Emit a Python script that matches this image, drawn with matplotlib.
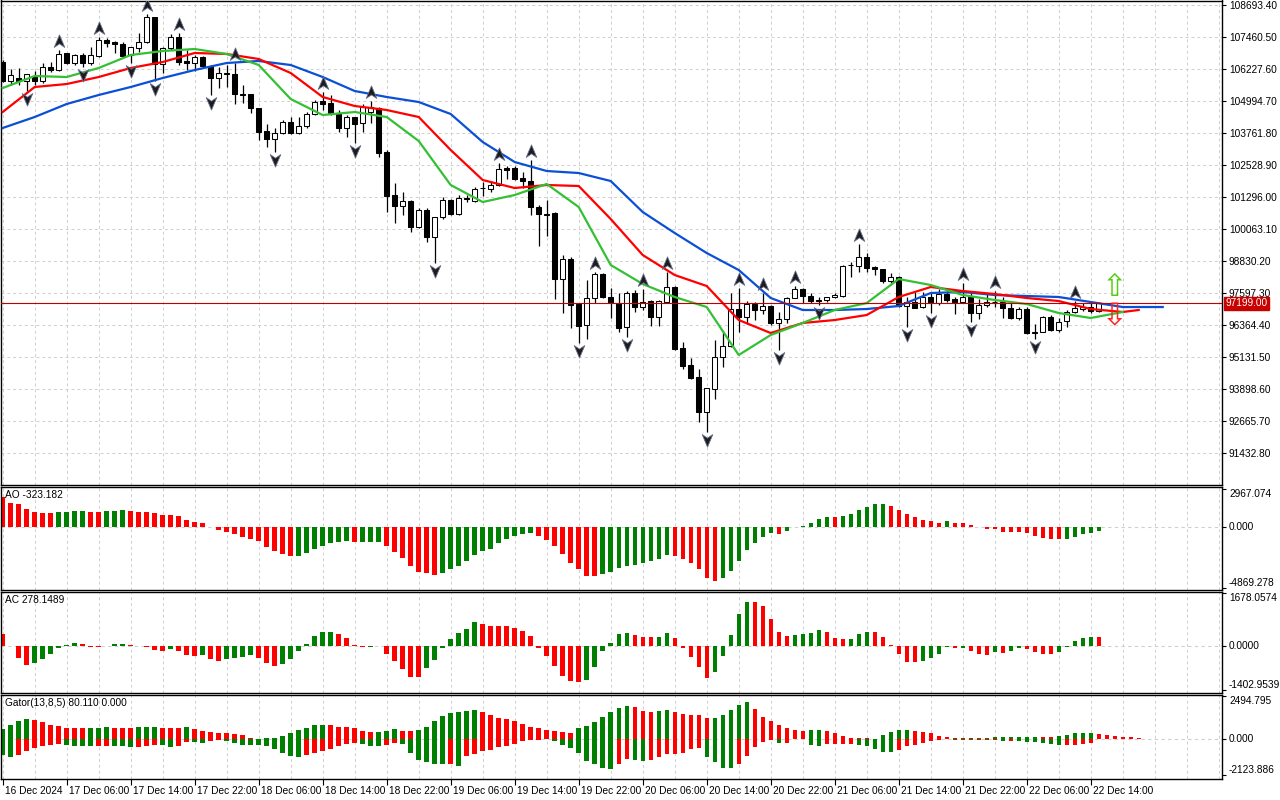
import numpy as np
import matplotlib
matplotlib.use("Agg")
import matplotlib.pyplot as plt
from matplotlib.path import Path
from matplotlib import transforms

plt.rcParams['font.family'] = ['Liberation Sans', 'DejaVu Sans']

# hourly BTC bars, first bar = 16 Dec 2024 22:00
opens = [106497, 105765, 105881, 105765, 105958, 105765, 106305, 106189, 106844, 106459,
         106767, 106459, 106729, 107345, 107268, 107191, 106767, 107037, 107268, 108231,
         106420, 107037, 107460, 106536, 106459, 106690, 106343, 105881, 106074, 106035,
         105264, 105264, 104725, 103839, 103531, 103762, 104185, 103762, 104031, 104494,
         104995, 104918, 104532, 103954, 104378, 104147, 104571, 104725, 103029, 101373,
         100949, 101141, 100140, 100795, 99755, 100525, 101180, 100641, 101257, 101141,
         101642, 101604, 101758, 102413, 102413, 102028, 101912, 100910, 100641, 100679,
         98136, 98907, 97172, 96364, 97404, 98329, 97442, 97211, 96287, 97597,
         97057, 97288, 96672, 97250, 97828, 95478, 94823, 94361, 93012, 93898,
         95131, 95555, 96981, 96672, 97173, 96942, 97096, 96441, 96595, 97404,
         97751, 97481, 97327, 97327, 97443, 97481, 98676, 98637, 98984, 98599,
         98522, 98059, 98214, 97096, 97250, 97057, 97443, 97211, 97558, 97365,
         97250, 97443, 96826, 97134, 97250, 97265, 97019, 96634, 96981, 96055,
         96094, 96672, 96171, 96518, 96865, 96981, 97057, 96904]
highs = [106574, 106227, 106266, 106035, 106150, 106459, 106497, 106960, 106860, 106806,
         106844, 107075, 107460, 107422, 107306, 107268, 107075, 107615, 108347, 108240,
         107075, 107576, 107615, 106960, 106767, 106729, 106382, 106305, 106400, 106459,
         105611, 105280, 104740, 104108, 103955, 104262, 104378, 104378, 104571, 105033,
         105341, 105226, 104648, 104455, 104390, 104879, 104995, 104764, 103107, 101835,
         101489, 101180, 100872, 100872, 100540, 101295, 101218, 101372, 101372, 101681,
         101874, 101912, 102606, 102490, 102490, 102259, 102721, 100987, 101180, 100718,
         99061, 98984, 97211, 98098, 98406, 98367, 97789, 97597, 97674, 97712,
         97770, 97327, 97327, 98406, 97866, 95709, 95093, 94669, 93950, 95786,
         96133, 97597, 97789, 97288, 97250, 97597, 97134, 96865, 97443, 97866,
         97780, 97597, 97443, 97460, 97597, 98660, 98791, 99485, 99139, 98620,
         98540, 98367, 98252, 97443, 97635, 97635, 97635, 97751, 97674, 97443,
         97982, 97597, 97365, 97558, 97674, 97443, 97211, 97057, 97057, 96402,
         96711, 96749, 96634, 96942, 97290, 97211, 97250, 97250]
lows = [105727, 105611, 105611, 105380, 105611, 105688, 106112, 106150, 106420, 106382,
        106305, 106382, 106690, 107075, 106844, 106690, 106459, 106882, 107229, 105765,
        106074, 106960, 106382, 106189, 106150, 106305, 105226, 105495, 105534, 104879,
        104918, 104532, 103492, 103222, 103029, 103723, 103723, 103723, 103954, 104455,
        104648, 104455, 103800, 103608, 103377, 103800, 104147, 102837, 100718, 100294,
        100602, 99947, 100101, 99562, 98753, 100448, 100602, 100602, 101103, 101103,
        101334, 101488, 101719, 101989, 101951, 101642, 100602, 99408, 99793, 97365,
        96826, 96248, 95670, 95824, 97211, 97420, 96634, 96094, 95901, 96865,
        96942, 96325, 96325, 97211, 95420, 94669, 94300, 92626, 92241, 93512,
        94746, 95530, 96094, 96402, 96556, 96788, 96364, 95401, 96441, 97390,
        97211, 97211, 97134, 97250, 97404, 97460, 98214, 98406, 98406, 98291,
        98000, 97982, 97070, 96287, 97000, 97019, 96826, 97134, 97250, 96788,
        97211, 96479, 96595, 97057, 97057, 96634, 96595, 96556, 96030, 95824,
        96080, 96133, 96094, 96287, 96826, 96904, 96826, 96865]
closes = [105765, 105997, 105765, 106035, 105765, 106305, 106189, 106806, 106459, 106767,
          106459, 106767, 107345, 107229, 107191, 106729, 107075, 107268, 108231, 106420,
          107037, 107460, 106497, 106459, 106690, 106343, 105881, 106074, 106035, 105264,
          105226, 104725, 103800, 103531, 103762, 104185, 103762, 104031, 104494, 104956,
          104879, 104532, 103954, 104378, 104108, 104764, 104764, 102991, 101334, 100949,
          101141, 100140, 100795, 99755, 100525, 101180, 100641, 101257, 101218, 101604,
          101660, 101758, 102374, 102336, 101989, 101912, 100910, 100641, 100620, 98136,
          98907, 97134, 96325, 97404, 98329, 97442, 97211, 96248, 97597, 97057,
          97250, 96672, 97288, 97828, 95439, 94784, 94322, 93012, 93936, 95131,
          95555, 96981, 96672, 97173, 96942, 97096, 96441, 96595, 97404, 97751,
          97481, 97288, 97300, 97443, 97520, 98637, 98660, 98984, 98560, 98522,
          98059, 98214, 97096, 97250, 97019, 97443, 97211, 97558, 97327, 97250,
          97443, 96826, 97134, 97250, 97265, 97019, 96634, 96981, 96055, 96094,
          96672, 96171, 96479, 96865, 97019, 97057, 96904, 97199]

# Alligator lines, read every 4 bars (jaw shifted 8, teeth 5, lips 3)
jaw_k = [0, 4, 8, 12, 16, 20, 24, 28, 32, 36, 40, 44, 48, 52, 56, 60, 64, 68, 72, 76,
         80, 84, 88, 92, 96, 100, 104, 108, 112, 116, 120, 124, 128, 132, 136, 140, 145]
jaw = [103955, 104378, 104879, 105226, 105534, 105881, 106189, 106459, 106536, 106382,
       105919, 105380, 105149, 104956, 104494, 103415, 102644, 102297, 102220, 101912,
       100718, 99909, 99138, 98483, 97404, 96942, 96942, 96980, 97096, 97597,
       97636, 97520, 97481, 97443, 97250, 97057, 97057]
teeth_k = [0, 4, 8, 12, 16, 20, 24, 28, 32, 36, 40, 44, 48, 52, 56, 60, 64, 68, 72, 76,
           80, 84, 88, 92, 96, 100, 104, 108, 112, 116, 120, 124, 128, 132, 136, 140, 142]
teeth = [104571, 105534, 105649, 105919, 106266, 106497, 106844, 106806, 106613, 106074,
         105149, 104802, 104648, 104378, 103107, 101951, 101642, 101758, 101720, 100448,
         99061, 98290, 97866, 96556, 96055, 96441, 96556, 96749, 97443, 97828,
         97674, 97558, 97404, 97288, 96980, 96865, 96942]
lips_k = [0, 4, 8, 12, 16, 20, 24, 28, 32, 36, 40, 44, 48, 52, 56, 60, 64, 68, 72, 76,
          80, 84, 88, 92, 96, 100, 104, 108, 112, 116, 120, 124, 128, 132, 136, 140]
lips = [105495, 105958, 105919, 106266, 106767, 106921, 106998, 106806, 106382, 105071,
        104455, 104571, 104378, 103454, 101758, 101103, 101373, 101797, 100910, 98676,
        97944, 97443, 97057, 95208, 95979, 96441, 96942, 97211, 98136, 97905,
        97520, 97327, 97173, 96826, 96634, 96865]

fractal_up = [7, 12, 18, 22, 29, 40, 46, 62, 66, 74, 80, 83, 92, 95, 99, 107, 120, 124, 134]
fractal_down = [3, 10, 16, 19, 26, 34, 44, 54, 72, 78, 88, 97, 102, 113, 116, 121, 129]

signal_k = 139
signal_buy = 97828
signal_sell = 96691

ao = [2340, 1900, 1820, 1400, 1200, 1130, 1120, 1150, 1200, 1210,
      1250, 1200, 1190, 1240, 1250, 1330, 1250, 1200, 1190, 1120,
      940, 900, 880, 550, 390, 310, -20, -290, -440, -600,
      -780, -940, -1120, -1640, -1950, -2160, -2310, -2280, -2080, -1770,
      -1560, -1300, -1170, -1140, -1230, -1210, -1190, -1170, -1560, -1980,
      -2470, -3120, -3590, -3640, -3800, -3640, -3330, -3120, -2730, -2240,
      -1920, -1720, -1300, -990, -730, -600, -520, -730, -1050, -1560,
      -2160, -2860, -3330, -3900, -3910, -3720, -3590, -3250, -3120, -3040,
      -2860, -2730, -2550, -2260, -2340, -2550, -2860, -3330, -4030, -4290,
      -4030, -3510, -2730, -1870, -1250, -780, -520, -540, -360, -50,
      80, 310, 620, 780, 770, 860, 1040, 1330, 1560, 1790,
      1800, 1640, 1330, 1040, 780, 550, 420, 310, 470, 310,
      300, 160, -30, -160, -210, -390, -395, -400, -520, -700,
      -860, -940, -990, -940, -780, -600, -480, -323.182]
ao_prev = 2500

ac = [370, -10, -370, -600, -540, -420, -250, -50, 30, 90,
      60, -20, -25, -10, 60, 65, 30, -10, -20, -120,
      -175, -110, -175, -300, -330, -300, -420, -480, -420, -390,
      -360, -300, -390, -540, -640, -575, -420, -175, 60, 310,
      430, 460, 370, 250, 30, -40, -35, -10, -240, -480,
      -730, -980, -985, -710, -450, -80, 215, 420, 555, 770,
      710, 650, 645, 640, 585, 490, 310, -50, -330, -640,
      -945, -1130, -1135, -1070, -670, -175, 90, 370, 400, 340,
      280, 275, 285, 400, 250, -70, -360, -670, -1005, -820,
      -330, 340, 1015, 1415, 1410, 1260, 860, 430, 310, 340,
      370, 400, 520, 430, 250, 215, 220, 370, 460, 430,
      280, 20, -270, -510, -515, -480, -390, -270, -40, -80,
      -50, -175, -270, -300, -205, -210, -145, -80, -110, -205,
      -240, -245, -205, -40, 155, 250, 290, 278.1489]
ac_prev = 500

gator_up = [560, 820, 1020, 1170, 1115, 985, 820, 760, 650, 615,
            610, 615, 650, 670, 650, 645, 640, 690, 705, 710,
            650, 615, 610, 670, 595, 485, 370, 365, 355, 260,
            205, 40, 10, 40, 55, 170, 320, 540, 650, 820,
            825, 780, 705, 700, 615, 430, 370, 375, 485, 560,
            485, 480, 520, 710, 1060, 1320, 1490, 1560, 1600, 1670,
            1560, 1380, 1230, 1140, 1040, 890, 710, 630, 510, 450,
            390, 350, 630, 745, 1000, 1280, 1560, 1790, 1900, 1840,
            1620, 1560, 1620, 1675, 1560, 1450, 1395, 1380, 1230, 1235,
            1395, 1675, 1950, 2120, 1730, 1280, 1060, 780, 630, 500,
            445, 500, 505, 480, 335, 170, 55, 50, 45, 15,
            225, 390, 500, 505, 480, 390, 335, 185, 110, 50,
            35, 25, 20, 75, 95, 100, 105, 110, 120, 130,
            125, 120, 185, 225, 335, 340, 345, 300, 225, 170,
            110, 80.11, 55]
gator_up_prev = 400
gator_down = [-950, -1060, -950, -710, -560, -430, -335, -280, -335, -390,
              -430, -445, -430, -390, -395, -430, -485, -470, -390, -335,
              -355, -485, -390, -170, -180, -225, -110, -75, -110, -225,
              -335, -340, -370, -430, -615, -800, -1020, -1060, -950, -840,
              -725, -575, -430, -280, -225, -280, -390, -430, -335, -225,
              -280, -800, -1230, -1340, -1450, -1455, -1450, -1560, -1005, -890,
              -725, -650, -485, -390, -280, -130, -95, -55, -20, -150,
              -370, -560, -840, -1280, -1490, -1710, -1770, -1450, -1170, -1230,
              -1265, -1260, -1060, -890, -860, -840, -615, -560, -1060, -1340,
              -1710, -1715, -1450, -1000, -500, -170, -40, -220, -215, -30,
              -20, -355, -390, -315, -310, -305, -300, -355, -445, -615,
              -780, -785, -650, -445, -370, -225, -130, -75, -10, -55,
              -60, -75, -90, -55, -40, -150, -130, -150, -155, -185,
              -225, -280, -370, -355, -350, -315, -225]
gator_down_prev = -800

time_labels = ["16 Dec 2024", "17 Dec 06:00", "17 Dec 14:00", "17 Dec 22:00",
               "18 Dec 06:00", "18 Dec 14:00", "18 Dec 22:00", "19 Dec 06:00",
               "19 Dec 14:00", "19 Dec 22:00", "20 Dec 06:00", "20 Dec 14:00",
               "20 Dec 22:00", "21 Dec 06:00", "21 Dec 14:00", "21 Dec 22:00",
               "22 Dec 06:00", "22 Dec 14:00"]
price_ticks = [108693.40, 107460.50, 106227.60, 104994.70, 103761.80, 102528.90,
               101296.00, 100063.10, 98830.20, 97597.30, 96364.40, 95131.50,
               93898.60, 92665.70, 91432.80]

GREEN = '#008000'
RED = '#ff0000'
GRID = '#cfcfcf'
FS = 7.3
W, H = 1280, 800


def panel(fig, top, bottom):
    ax = fig.add_axes([1 / W, 1 - bottom / H, 1221 / W, (bottom - top) / H])
    ax.set_xlim(-0.21, 152.41)
    for s in ax.spines.values():
        s.set_linewidth(1.0)
        s.set_color('black')
    for k in range(0, 153, 4):
        ax.axvline(k, color=GRID, lw=0.7, ls=(0, (3, 3)), zorder=0)
    ax.yaxis.tick_right()
    ax.tick_params(axis='y', direction='out', length=3, width=0.8, labelsize=FS, pad=2)
    ax.tick_params(axis='x', bottom=False, labelbottom=False)
    return ax


def trend_colors(vals, prev, absolute=False):
    cols = []
    last = prev
    for v in vals:
        a, b = (abs(v), abs(last)) if absolute else (v, last)
        cols.append(GREEN if a > b else RED)
        last = v
    return cols


def indicator(ax, ylim, labels, title):
    ax.set_ylim(*ylim)
    ax.axhline(0, color=GRID, lw=0.8, ls=(0, (3, 3)), zorder=0)
    ticks = [float(t) for t in labels]
    ax.set_yticks(ticks)
    ax.set_yticklabels(labels)
    for lbl, va in zip(ax.get_yticklabels(), ['bottom', 'center', 'top']):
        lbl.set_va(va)
    ax.annotate(title, xy=(0, 1), xycoords='axes fraction', xytext=(4, -3),
                textcoords='offset pixels', va='top', ha='left', fontsize=FS)


fig = plt.figure(figsize=(12.8, 8), dpi=100)
fig.patch.set_facecolor('white')

# ---- main price panel ----
ax = panel(fig, 0.5, 485.3)
ax.set_ylim(90188, 108867)
ax.set_yticks(price_ticks)
ax.set_yticklabels([f"{p:.2f}" for p in price_ticks])
for p in price_ticks:
    ax.axhline(p, color=GRID, lw=0.7, ls=(0, (3, 3)), zorder=0)

o = np.array(opens)
h = np.array(highs)
l = np.array(lows)
c = np.array(closes)
x = np.arange(len(o))
ax.vlines(x, l, h, color='black', lw=0.9, zorder=2)
body_low = np.minimum(o, c)
body_h = np.maximum(np.abs(c - o), 12)
bull = c >= o
ax.bar(x[bull], body_h[bull], bottom=body_low[bull], width=0.64,
       facecolor='white', edgecolor='black', linewidth=0.75, zorder=3)
ax.bar(x[~bull], body_h[~bull], bottom=body_low[~bull], width=0.64,
       facecolor='black', edgecolor='black', linewidth=0.75, zorder=3)

ax.plot(jaw_k, jaw, color='#0a4fd6', lw=1.6, zorder=4)
ax.plot(teeth_k, teeth, color='#ff0000', lw=1.6, zorder=4)
ax.plot(lips_k, lips, color='#33c033', lw=1.6, zorder=4)

ax.axhline(closes[-1], color='#c00000', lw=0.8, zorder=4)
tr = transforms.blended_transform_factory(ax.transAxes, ax.transData)
ax.text(1.003, closes[-1], f"{closes[-1]:.2f}", transform=tr, ha='left', va='center',
        fontsize=FS, color='white',
        bbox=dict(boxstyle='square,pad=0.15', fc='#c80000', ec='#c80000'))

up_path = Path([(0, 1), (0.8, -0.9), (0, -0.35), (-0.8, -0.9), (0, 1)],
               [Path.MOVETO, Path.LINETO, Path.LINETO, Path.LINETO, Path.CLOSEPOLY])
down_path = Path([(0, -1), (0.8, 0.9), (0, 0.35), (-0.8, 0.9), (0, -1)],
                 [Path.MOVETO, Path.LINETO, Path.LINETO, Path.LINETO, Path.CLOSEPOLY])
up_tr = transforms.offset_copy(ax.transData, fig=fig, x=0, y=9, units='dots')
dn_tr = transforms.offset_copy(ax.transData, fig=fig, x=0, y=-8, units='dots')
ax.plot(fractal_up, h[fractal_up], ls='none', marker=up_path, ms=9.5,
        mfc='#1c1c1c', mec='#6a7090', mew=0.6, transform=up_tr, zorder=5)
ax.plot(fractal_down, l[fractal_down], ls='none', marker=down_path, ms=9.5,
        mfc='#1c1c1c', mec='#6a7090', mew=0.6, transform=dn_tr, zorder=5)

ax.text(signal_k, signal_buy, '\u21e7', color='#55cc11', fontsize=22, ha='center',
        va='center', family='DejaVu Sans', zorder=6)
ax.text(signal_k, signal_sell, '\u21e9', color='#ff2020', fontsize=22, ha='center',
        va='center', family='DejaVu Sans', zorder=6)

# ---- AO ----
ax_ao = panel(fig, 487.3, 590)
ax_ao.bar(np.arange(len(ao)), ao, width=0.55, color=trend_colors(ao, ao_prev), zorder=2)
indicator(ax_ao, (-5004, 3125), ["-4869.278", "0.000", "2967.074"], f"AO {ao[-1]:.3f}")

# ---- AC ----
ax_ac = panel(fig, 592.3, 693)
ax_ac.bar(np.arange(len(ac)), ac, width=0.55, color=trend_colors(ac, ac_prev), zorder=2)
indicator(ax_ac, (-1498.5, 1709.9), ["-1402.9539", "0.0000", "1678.0574"],
          f"AC {ac[-1]:.4f}")

# ---- Gator ----
ax_g = panel(fig, 695.3, 779)
ax_g.bar(np.arange(len(gator_up)), gator_up, width=0.55,
         color=trend_colors(gator_up, gator_up_prev), zorder=2)
ax_g.bar(np.arange(len(gator_down)), gator_down, width=0.55,
         color=trend_colors(gator_down, gator_down_prev, absolute=True), zorder=2)
indicator(ax_g, (-2339, 2536), ["-2123.886", "0.000", "2494.795"],
          f"Gator(13,8,5) {gator_up[-2]:.3f} 0.000")

tick_k = list(range(0, 8 * len(time_labels), 8))
ax_g.set_xticks(tick_k)
ax_g.set_xticklabels(time_labels, fontsize=FS)
ax_g.tick_params(axis='x', bottom=True, labelbottom=True, direction='out',
                 length=4, width=0.8, pad=1)
shift = transforms.ScaledTranslation(2 / 100, 0, fig.dpi_scale_trans)
for lbl in ax_g.get_xticklabels():
    lbl.set_ha('left')
    lbl.set_transform(lbl.get_transform() + shift)

fig.savefig('out.png', dpi=100, facecolor='white')
